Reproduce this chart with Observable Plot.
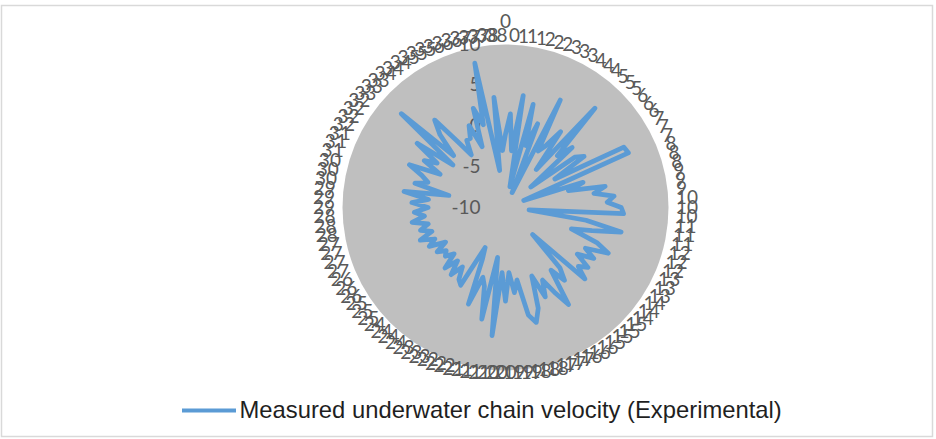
<!DOCTYPE html>
<html>
<head>
<meta charset="utf-8">
<script src="https://cdn.jsdelivr.net/npm/d3@7"></script>
<script src="https://cdn.jsdelivr.net/npm/@observablehq/plot@0.6"></script>
<style>
  body { margin: 0; background: #fff; }
  #chart svg { display: block; }
</style>
</head>
<body>
<div id="chart"></div>
<script>
// Category labels (elapsed time, s, shown as whole numbers), clockwise from the top
const timeLabels = [
  0,0,1,1,1,2,2,2,3,3,3,4,4,4,5,5,5,6,6,6,7,7,7,8,8,8,9,9,9,10,
  10,10,11,11,11,12,12,12,13,13,13,14,14,14,15,15,15,15,16,16,16,17,17,17,18,18,18,19,19,19,
  20,20,20,21,21,21,21,22,22,22,23,23,23,24,24,24,24,25,25,25,26,26,26,27,27,27,27,28,28,28,
  29,29,29,30,30,30,31,31,31,32,32,32,32,33,33,33,34,34,34,35,35,35,36,36,36,37,37,37,38,38
];

// Measured underwater chain velocity at each category
const velocity = [
  -1, 1.5, -3, 3.9, -7.4, 3.1, -2, 1, -8, 4.8,
  -2, -1, 1.5, -4, 6.4, -1, 1, -6, 0.5, 1.5,
  -3, 6.3, 6.5, -7.6, 0, -2, 2.5, 1, 3.4, 2.5,
  4.2, 4.5, -7.1, 0, 4.5, 1, -1.5, 2, 3.8, 1,
  2.5, 0.5, 2.5, 1.5, 3.1, -5.3, 0, 1.5, -0.5, 4.2,
  2, 0, 2, -1, 3, 4.6, 3.5, -1, 0.5, -2,
  1.5, -2, 5.8, -3.8, 4, 0, -1, 2.7, -3, -4.5,
  1, 0.5, -1, 0.6, -1.2, 0.5, -1.5, -0.5, -1, 0,
  -1.5, 0.5, -0.5, 1.2, -0.5, 0.8, -0.3, 1.6, 0, 1.2,
  -0.5, 1.5, -0.5, 2.6, -2.9, 1.5, 0, 1, 2.9, -1,
  1.5, 0, 3.4, -1.7, 7.2, -1, 2, 3.8, 0, -2.3,
  -0.5, -0.5, 1, -2, 2.8, 0.5, 8.1, -5.4, 3.6, -3
];

const radialTicks = [-10, -5, 0, 5, 10];
const seriesName = "Measured underwater chain velocity (Experimental)";

const W = 936, H = 439;
const cx = 505, cy = 207, R = 163;
const lineColor = "#5B9BD5";
const textColor = "#595959";

// radial value scale: -10 at the centre, 10 on the rim
const radius = d3.scaleLinear([-10, 10], [0, R]);
const n = velocity.length;
const angleOf = i => 2 * Math.PI * i / n;

const points = velocity.map((v, i) => ({
  x: radius(v) * Math.sin(angleOf(i)),
  y: -radius(v) * Math.cos(angleOf(i))
}));

// category labels hug the rim; sideways labels are pushed out by half their width,
// and the first one sits clear above the end of the radial axis
const labelRows = timeLabels.map((t, i) => {
  const a = angleOf(i), s = Math.sin(a), c = Math.cos(a);
  const w = String(t).length * 9.5;
  const off = i === 0 ? 23 : 5 + Math.abs(s) * (w / 2 + 4) + 3 * c;
  return { x: (R + off) * s, y: -(R + off) * c, text: String(t) };
});

const chart = Plot.plot({
  width: W,
  height: H,
  margin: 0,
  x: { domain: [-cx, W - cx], range: [0, W], axis: null },
  y: { domain: [-cy, H - cy], range: [0, H], axis: null },
  style: { background: "#fff", overflow: "visible" },
  marks: [
    // chart border
    Plot.rect([{ x1: -cx + 1.5, x2: W - cx - 3.5, y1: -cy + 5.5, y2: H - cy - 2.5 }],
      { x1: "x1", x2: "x2", y1: "y1", y2: "y2", fill: "none", stroke: "#d9d9d9", strokeWidth: 1.5 }),
    // plot disc
    Plot.dot([{ x: 0, y: 0 }], { x: "x", y: "y", r: R, fill: "#bfbfbf", stroke: "none" }),
    // radial axis labels
    Plot.text(radialTicks, {
      x: () => -25, y: d => -radius(d), text: d => String(d),
      textAnchor: "end", lineAnchor: "middle",
      fontSize: 19, fontFamily: "Lato, sans-serif", fill: textColor
    }),
    // the series, closed back to its first point
    Plot.line(points, {
      x: "x", y: "y", curve: "linear-closed",
      stroke: lineColor, strokeWidth: 4.75, strokeLinejoin: "round", strokeLinecap: "round"
    }),
    // category labels
    Plot.text(labelRows, {
      x: "x", y: "y", text: "text",
      textAnchor: "middle", lineAnchor: "middle",
      fontSize: 19, fontFamily: "Lato, sans-serif", fill: textColor
    }),
    // legend
    Plot.ruleY([{ y: 203 }], { y: "y", x1: () => 182 - cx, x2: () => 236 - cx, stroke: lineColor, strokeWidth: 4 }),
    Plot.text([seriesName], {
      x: () => 239 - cx, y: () => 203, text: d => d,
      textAnchor: "start", lineAnchor: "middle",
      fontSize: 23.8, fontFamily: "'Liberation Sans', Arial, sans-serif", fill: "#1f1f1f"
    })
  ]
});

document.getElementById("chart").appendChild(chart);
</script>
</body>
</html>
